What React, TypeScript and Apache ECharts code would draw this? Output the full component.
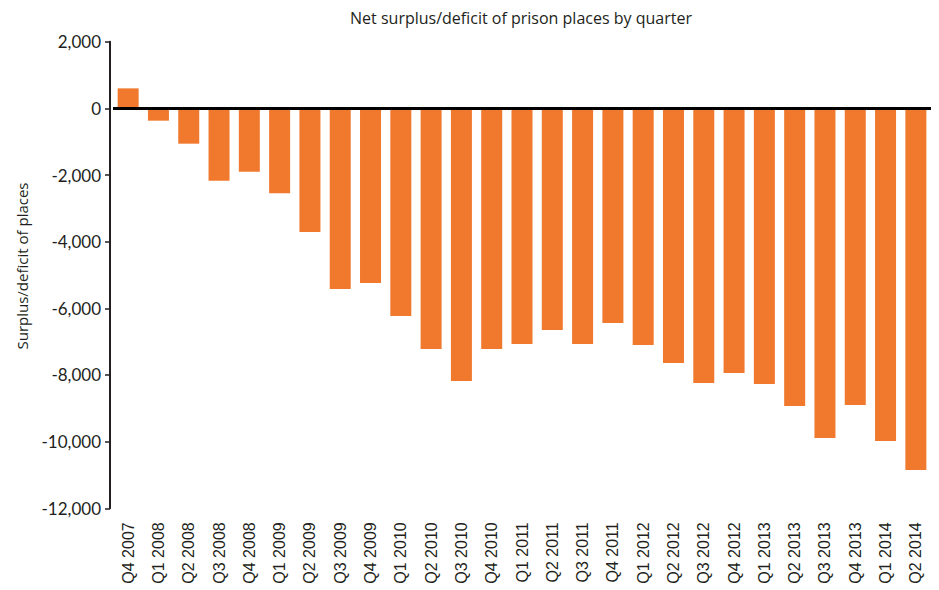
import React, { useEffect, useRef } from "react";
import * as echarts from "echarts";

const title = "Net surplus/deficit of prison places by quarter";
const yAxisTitle = "Surplus/deficit of places";
const categories = [
  "Q4 2007", "Q1 2008", "Q2 2008", "Q3 2008", "Q4 2008", "Q1 2009", "Q2 2009",
  "Q3 2009", "Q4 2009", "Q1 2010", "Q2 2010", "Q3 2010", "Q4 2010", "Q1 2011",
  "Q2 2011", "Q3 2011", "Q4 2011", "Q1 2012", "Q2 2012", "Q3 2012", "Q4 2012",
  "Q1 2013", "Q2 2013", "Q3 2013", "Q4 2013", "Q1 2014", "Q2 2014",
];
const values = [
  600, -370, -1060, -2170, -1900, -2550, -3710,
  -5420, -5240, -6230, -7220, -8180, -7220, -7070,
  -6650, -7070, -6440, -7100, -7640, -8240, -7940,
  -8270, -8930, -9890, -8900, -9980, -10850,
];
const yMin = -12000;
const yMax = 2000;
const yStep = 2000;

export default function App() {
  const ref = useRef<HTMLDivElement>(null);
  useEffect(() => {
    if (!ref.current) return;
    const chart = echarts.init(ref.current, undefined, { renderer: "svg" });
    const textColor = "#231f20";
    chart.setOption({
      animation: false,
      backgroundColor: "#ffffff",
      grid: { left: 113, right: 8, top: 41.7, bottom: 81.7, containLabel: false },
      graphic: [
        {
          type: "text",
          x: 521,
          y: 18,
          style: {
            text: title,
            fill: textColor,
            font: "16px 'Open Sans'",
            textAlign: "center",
            textVerticalAlign: "middle",
          },
        },
        {
          type: "text",
          x: 22,
          y: 266,
          rotation: Math.PI / 2,
          style: {
            text: yAxisTitle,
            fill: textColor,
            font: "15px 'Open Sans'",
            textAlign: "center",
            textVerticalAlign: "middle",
          },
        },
      ],
      xAxis: {
        type: "category",
        data: categories,
        position: "bottom",
        axisLine: { show: false, onZero: false },
        axisTick: { show: false },
        axisLabel: {
          rotate: 90,
          interval: 0,
          margin: 14,
          color: textColor,
          fontFamily: "'Liberation Sans', Arial, sans-serif",
          fontSize: 16,
        },
      },
      yAxis: {
        type: "value",
        min: yMin,
        max: yMax,
        interval: yStep,
        offset: 3,
        axisLine: { show: true, lineStyle: { color: textColor, width: 2 } },
        axisTick: { show: true, length: 5, lineStyle: { color: textColor, width: 1.5 } },
        splitLine: { show: false },
        axisLabel: {
          color: textColor,
          fontFamily: "Lato, sans-serif",
          fontSize: 17,
          margin: 9,
          formatter: (v: number) => v.toLocaleString("en-US"),
        },
      },
      series: [
        {
          type: "bar",
          data: values,
          barWidth: 21,
          itemStyle: { color: "#f0792e" },
          markLine: {
            silent: true,
            symbol: "none",
            label: { show: false },
            lineStyle: { color: "#000000", width: 3, type: "solid" },
            data: [{ yAxis: 0 }],
          },
        },
      ],
    });
    return () => chart.dispose();
  }, []);
  return <div ref={ref} style={{ width: 939, height: 590, position: "absolute", left: 0, top: 0 }} />;
}
